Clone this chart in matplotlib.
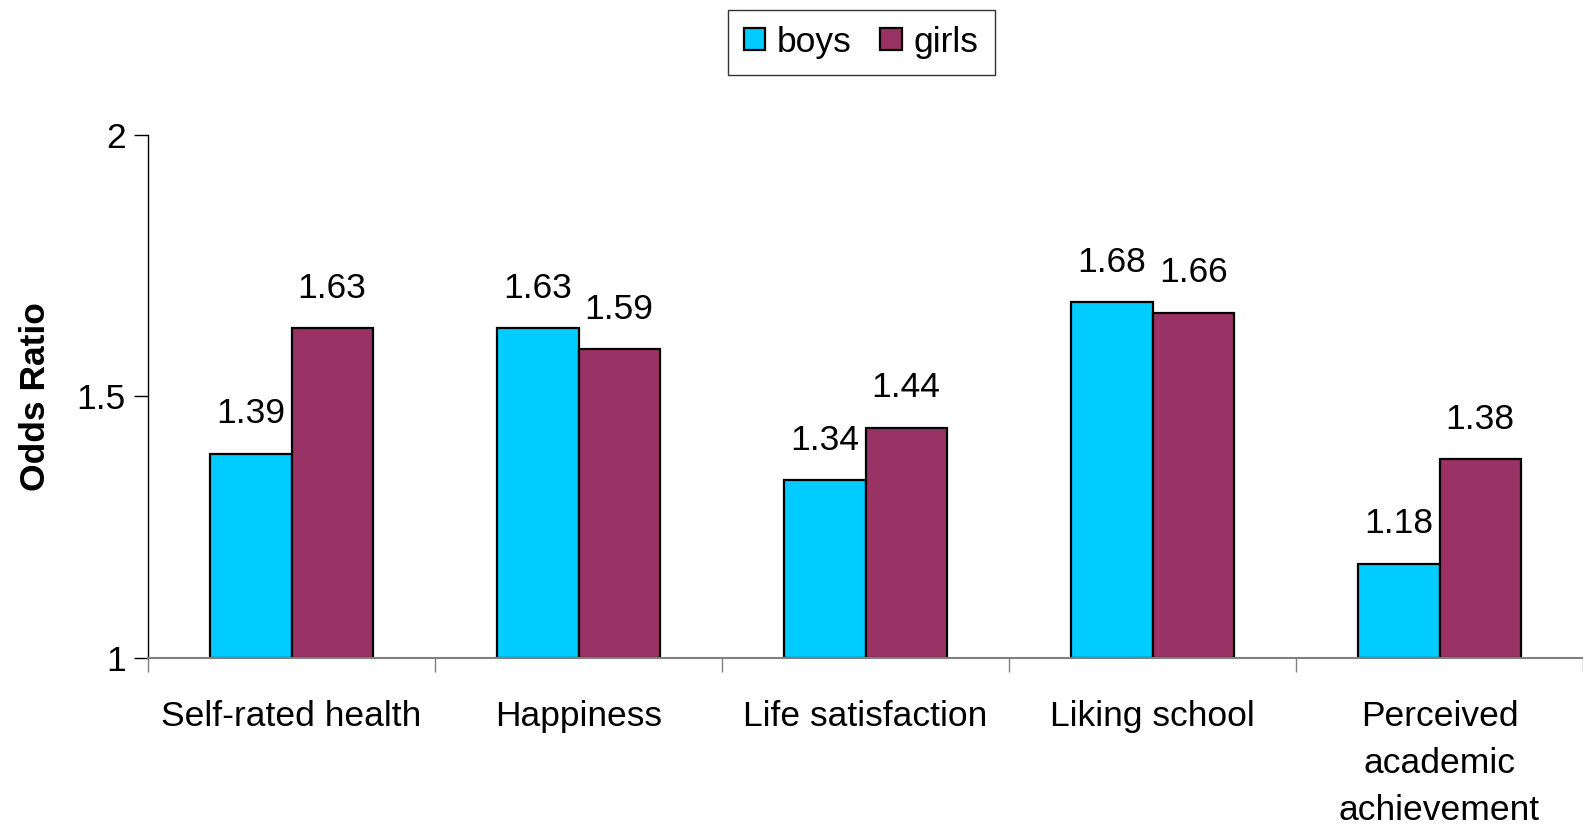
import numpy as np
import matplotlib.pyplot as plt
from matplotlib.ticker import FixedLocator, FormatStrFormatter

plt.rcParams['font.family'] = ['Liberation Sans', 'DejaVu Sans']

categories = ['Self-rated health', 'Happiness', 'Life satisfaction', 'Liking school',
              'Perceived\nacademic\nachievement']
boys = [1.39, 1.63, 1.34, 1.68, 1.18]
girls = [1.63, 1.59, 1.44, 1.66, 1.38]

c_boys = '#00CCFF'
c_girls = '#993366'
fs = 25.5

fig = plt.figure(figsize=(15.83, 8.27), dpi=100)
ax = fig.add_axes([0.0935, 0.2044, 0.9065, 0.6324])

x = np.arange(len(categories))
w = 0.283
b1 = ax.bar(x - w/2, np.array(boys) - 1, w, bottom=1, color=c_boys, edgecolor='black', linewidth=1.6, label='boys')
b2 = ax.bar(x + w/2, np.array(girls) - 1, w, bottom=1, color=c_girls, edgecolor='black', linewidth=1.6, label='girls')

for xi, v in zip(x - w/2, boys):
    ax.text(xi, v + 0.045, '%.2f' % v, ha='center', va='bottom', fontsize=fs)
for xi, v in zip(x + w/2, girls):
    ax.text(xi, v + 0.045, '%.2f' % v, ha='center', va='bottom', fontsize=fs)

ax.set_xlim(-0.5, len(categories) - 0.5)
ax.set_ylim(1, 2)
ax.set_yticks([1, 1.5, 2])
ax.yaxis.set_major_formatter(FormatStrFormatter('%g'))
ax.tick_params(axis='y', length=10, width=1, labelsize=fs, pad=6)

ax.set_xticks(x)
ax.set_xticklabels(categories, linespacing=1.55)
ax.xaxis.set_minor_locator(FixedLocator(np.arange(-0.5, len(categories) - 0.4, 1)))
ax.tick_params(axis='x', which='major', length=0, labelsize=fs, pad=30)
ax.tick_params(axis='x', which='minor', length=10, width=1, color='#808080')

for s in ['top', 'right']:
    ax.spines[s].set_visible(False)
ax.spines['left'].set_linewidth(1)
ax.spines['bottom'].set_color('#808080')
ax.spines['bottom'].set_linewidth(1.5)

ax.set_ylabel('Odds Ratio', fontsize=fs, fontweight='bold', labelpad=18)

leg = fig.legend(handles=[b1, b2], labels=['boys', 'girls'], loc='center',
                 bbox_to_anchor=(0.544, 0.949), ncol=2, fontsize=fs, frameon=True,
                 fancybox=False, edgecolor='black', handlelength=0.6, handleheight=0.6,
                 handletextpad=0.35, columnspacing=0.8, borderpad=0.45)
leg.get_frame().set_linewidth(1)

fig.savefig('out.png', dpi=100)
